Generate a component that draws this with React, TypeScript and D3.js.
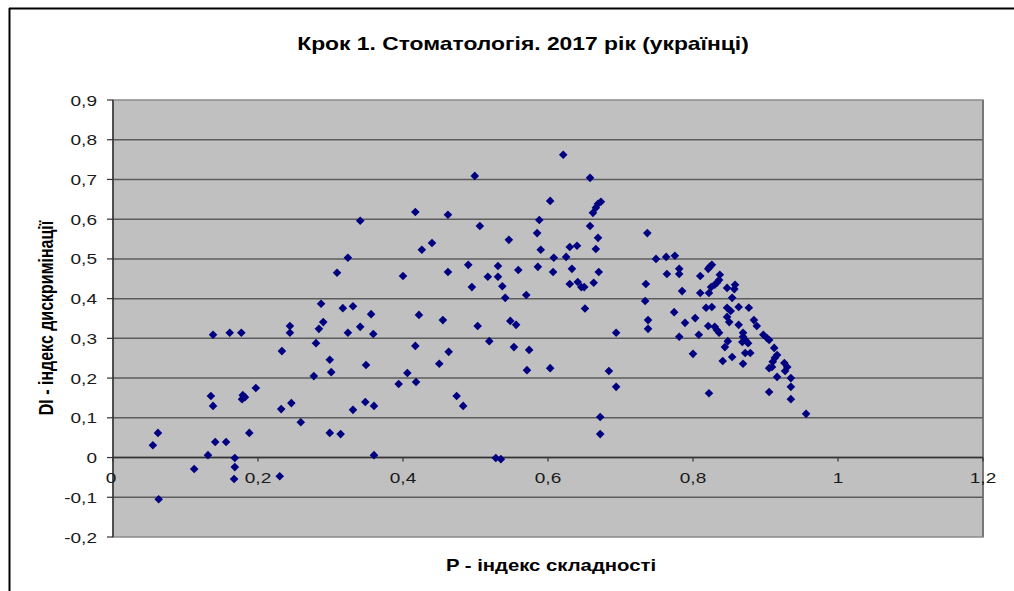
import * as d3 from "d3";

const TITLE = "Крок 1. Стоматологія. 2017 рік (українці)";
const X_TITLE = "P - індекс складності";
const Y_TITLE = "DI - індекс дискримінації";

const X_TICKS = [0, 0.2, 0.4, 0.6, 0.8, 1, 1.2];
const X_TICK_LABELS = ["0", "0,2", "0,4", "0,6", "0,8", "1", "1,2"];
const Y_TICKS = [-0.2, -0.1, 0, 0.1, 0.2, 0.3, 0.4, 0.5, 0.6, 0.7, 0.8, 0.9];
const Y_TICK_LABELS = ["-0,2", "-0,1", "0", "0,1", "0,2", "0,3", "0,4", "0,5", "0,6", "0,7", "0,8", "0,9"];

// P (difficulty index) per item
const P_INDEX = [
  0.287, 0.29, 0.244, 0.244, 0.284, 0.138, 0.161, 0.177, 0.28, 0.233,
  0.299, 0.301, 0.277, 0.197, 0.135, 0.138, 0.179, 0.182, 0.178, 0.232,
  0.246, 0.259, 0.299, 0.062, 0.055, 0.141, 0.156, 0.188, 0.131, 0.168,
  0.112, 0.168, 0.167, 0.23, 0.063,
  0.417, 0.462, 0.341, 0.506, 0.546, 0.44, 0.426, 0.324, 0.49, 0.531,
  0.309, 0.4, 0.462, 0.517, 0.531, 0.559, 0.495, 0.537, 0.541, 0.317,
  0.331, 0.356, 0.422, 0.455, 0.503, 0.548, 0.556, 0.341, 0.324, 0.359,
  0.519, 0.417, 0.553, 0.463, 0.349, 0.45, 0.406, 0.394, 0.418, 0.474,
  0.483, 0.348, 0.36, 0.331, 0.314, 0.36, 0.528, 0.535,
  0.621, 0.499, 0.658, 0.603, 0.673, 0.669, 0.666, 0.662, 0.588, 0.658,
  0.585, 0.669, 0.737, 0.59, 0.63, 0.64, 0.666, 0.608, 0.625, 0.586,
  0.633, 0.607, 0.67, 0.63, 0.641, 0.646, 0.65, 0.663, 0.735, 0.57,
  0.651, 0.734, 0.738, 0.738, 0.694, 0.574, 0.571, 0.603, 0.684, 0.694,
  0.672, 0.672,
  0.749, 0.763, 0.775, 0.781, 0.781, 0.764, 0.81, 0.823, 0.826, 0.821,
  0.837, 0.836, 0.833, 0.83, 0.785, 0.825, 0.81, 0.822, 0.847, 0.858,
  0.857, 0.854, 0.818, 0.826, 0.847, 0.852, 0.863, 0.877, 0.774, 0.803,
  0.789, 0.847, 0.85, 0.863, 0.884, 0.888, 0.821, 0.83, 0.833, 0.836,
  0.808, 0.781, 0.869, 0.869, 0.872, 0.868, 0.876, 0.897, 0.902, 0.905,
  0.848, 0.844, 0.912, 0.8, 0.872, 0.879, 0.854, 0.916, 0.913, 0.91,
  0.841, 0.869, 0.926, 0.93, 0.909, 0.905, 0.927, 0.916, 0.935, 0.935,
  0.822, 0.905, 0.935, 0.956,
];

// DI (discrimination index) per item
const DI_INDEX = [
  0.387, 0.341, 0.331, 0.314, 0.324, 0.309, 0.314, 0.314, 0.288, 0.268,
  0.246, 0.215, 0.205, 0.175, 0.155, 0.13, 0.157, 0.152, 0.147, 0.122,
  0.137, 0.089, 0.062, 0.062, 0.031, 0.039, 0.039, 0.062, 0.006, -0.001,
  -0.029, -0.024, -0.054, -0.047, -0.105,
  0.618, 0.611, 0.596, 0.583, 0.548, 0.54, 0.523, 0.503, 0.485, 0.482,
  0.465, 0.457, 0.467, 0.455, 0.455, 0.472, 0.429, 0.431, 0.402, 0.376,
  0.381, 0.361, 0.359, 0.346, 0.331, 0.344, 0.334, 0.329, 0.314, 0.311,
  0.293, 0.281, 0.278, 0.266, 0.233, 0.236, 0.213, 0.185, 0.19, 0.155,
  0.13, 0.14, 0.13, 0.12, 0.059, 0.006, -0.001, -0.004,
  0.762, 0.709, 0.704, 0.646, 0.644, 0.639, 0.629, 0.616, 0.598, 0.583,
  0.565, 0.553, 0.565, 0.523, 0.53, 0.533, 0.525, 0.503, 0.505, 0.48,
  0.475, 0.467, 0.467, 0.437, 0.442, 0.429, 0.429, 0.44, 0.437, 0.409,
  0.375, 0.394, 0.346, 0.324, 0.314, 0.271, 0.22, 0.225, 0.218, 0.178,
  0.102, 0.059,
  0.5, 0.505, 0.508, 0.475, 0.462, 0.462, 0.457, 0.48, 0.485, 0.475,
  0.46, 0.447, 0.44, 0.435, 0.419, 0.429, 0.414, 0.414, 0.427, 0.435,
  0.424, 0.402, 0.377, 0.379, 0.377, 0.369, 0.379, 0.377, 0.366, 0.351,
  0.339, 0.354, 0.341, 0.334, 0.346, 0.331, 0.331, 0.329, 0.321, 0.314,
  0.309, 0.304, 0.314, 0.304, 0.296, 0.291, 0.288, 0.309, 0.301, 0.296,
  0.293, 0.278, 0.276, 0.261, 0.263, 0.263, 0.253, 0.258, 0.251, 0.241,
  0.243, 0.236, 0.238, 0.228, 0.228, 0.225, 0.218, 0.203, 0.2, 0.178,
  0.162, 0.165, 0.147, 0.11,
];

const W = 1014;
const H = 591;
const plot = { left: 113, top: 100, right: 983, bottom: 537 };
const STRETCH = 1.27; // the source image is widened horizontally
const FONT = "'Liberation Sans', Arial, sans-serif";

export default function App() {
  const x = d3.scaleLinear().domain([0, 1.2]).range([plot.left, plot.right]);
  const y = d3.scaleLinear().domain([-0.2, 0.9]).range([plot.bottom, plot.top]);
  const points = d3.zip(P_INDEX, DI_INDEX);
  const diamond = "M0,-4.3L4.3,0L0,4.3L-4.3,0Z";

  const label = (tx: number, ty: number, text: string, opts: any = {}) => (
    <text
      transform={`translate(${tx},${ty}) scale(${STRETCH},1)${opts.rotate ? " rotate(-90)" : ""}`}
      textAnchor={opts.anchor ?? "middle"}
      fontSize={opts.size ?? 15}
      fontWeight={opts.bold ? "bold" : "normal"}
      fill={opts.fill ?? "#1a1a1a"}
      fontFamily={FONT}
    >
      {text}
    </text>
  );

  return (
    <div style={{ position: "absolute", left: 0, top: 0 }}>
      <svg width={W} height={H} style={{ display: "block", background: "#fff" }}>
        {/* chart frame (top and left edges visible) */}
        <line x1={9} x2={W} y1={8.5} y2={8.5} stroke="#000" strokeWidth={2} />
        <line x1={9.5} x2={9.5} y1={8} y2={H} stroke="#000" strokeWidth={2} />

        {label(523, 50, TITLE, { size: 18, bold: true, fill: "#000" })}

        {/* plot area */}
        <rect
          x={plot.left}
          y={plot.top}
          width={plot.right - plot.left}
          height={plot.bottom - plot.top}
          fill="#c0c0c0"
          stroke="#8a8a8a"
          strokeWidth={1.5}
        />
        {Y_TICKS.filter((t) => t > -0.2 && t < 0.9).map((t) => (
          <line
            key={`g${t}`}
            x1={plot.left}
            x2={plot.right}
            y1={y(t)}
            y2={y(t)}
            stroke="#5c5c5c"
            strokeWidth={1.5}
          />
        ))}
        <line x1={plot.right} x2={plot.right} y1={plot.top} y2={plot.bottom} stroke="#6a6a6a" strokeWidth={1.5} />

        {/* y axis */}
        <line x1={plot.left} x2={plot.left} y1={plot.top} y2={plot.bottom} stroke="#333" strokeWidth={1.5} />
        {Y_TICKS.map((t, i) => (
          <g key={`y${t}`}>
            <line x1={plot.left - 6} x2={plot.left} y1={y(t)} y2={y(t)} stroke="#333" strokeWidth={1.2} />
            {label(plot.left - 16, y(t) + 5.5, Y_TICK_LABELS[i], { anchor: "end" })}
          </g>
        ))}

        {/* x axis at DI = 0 */}
        <line x1={plot.left} x2={plot.right} y1={y(0)} y2={y(0)} stroke="#333" strokeWidth={1.5} />
        {X_TICKS.map((t, i) => (
          <g key={`x${t}`}>
            <line x1={x(t)} x2={x(t)} y1={y(0)} y2={y(0) + 4} stroke="#333" strokeWidth={1.2} />
            {label(x(t) + (i === 0 ? -2 : 0), y(0) + 25, X_TICK_LABELS[i])}
          </g>
        ))}

        {/* markers */}
        {points.map(([p, di], i) => (
          <path key={i} d={diamond} transform={`translate(${x(p)},${y(di)})`} fill="#000080" />
        ))}

        {label(551, 571, X_TITLE, { size: 16, bold: true, fill: "#000" })}
        {label(53, 318, Y_TITLE, { size: 16, bold: true, fill: "#000", rotate: true })}
      </svg>
    </div>
  );
}
